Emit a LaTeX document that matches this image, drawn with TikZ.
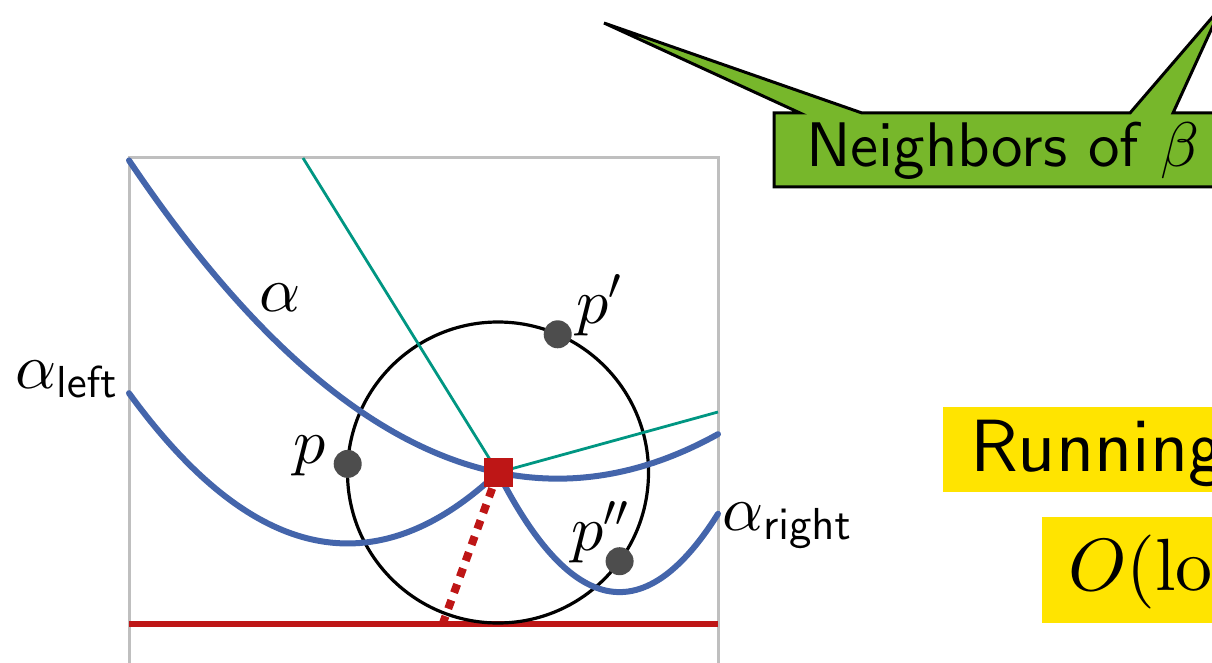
\documentclass[tikz,border=0pt]{standalone}
\DeclareFontShape{OT1}{cmss}{m}{n}{<->cmss10}{}
\DeclareFontShape{OML}{cmm}{m}{it}{<->cmmi10}{}
\DeclareFontShape{OT1}{cmr}{m}{n}{<->cmr10}{}
\DeclareFontShape{OMS}{cmsy}{m}{n}{<->cmsy10}{}
\DeclareFontShape{OMX}{cmex}{m}{n}{<->cmex10}{}
\newcommand{\cmsans}{\fontencoding{OT1}\fontfamily{cmss}\fontseries{m}\fontshape{n}}
\definecolor{blu}{RGB}{68,101,171}
\definecolor{teal2}{RGB}{0,150,130}
\definecolor{vred}{RGB}{190,22,22}
\definecolor{framegray}{RGB}{191,191,191}
\definecolor{dotgray}{RGB}{77,77,77}
\definecolor{callgreen}{RGB}{119,183,43}
\definecolor{hiyellow}{RGB}{255,228,0}
\begin{document}
\begin{tikzpicture}[x=1pt,y=-1pt,
  frame/.style={draw=framegray, line width=3pt},
  beach/.style={draw=blu, line width=6pt, line cap=round},
  bis/.style={draw=teal2, line width=2.8pt},
  sweep/.style={draw=vred, line width=6pt},
  drop/.style={draw=vred, line width=8pt, dash pattern=on 9pt off 8pt},
  circ/.style={draw=black, line width=3.2pt},
  site/.style={circle, fill=dotgray, minimum size=28pt, inner sep=0pt},
  vertex/.style={fill=vred, minimum size=29pt, inner sep=0pt},
  lbl/.style={inner sep=0pt, font=\fontsize{64}{77}\selectfont},
  call/.style={inner sep=0pt, font=\cmsans\fontsize{63}{76}\selectfont},
  big/.style={inner sep=0pt, font=\cmsans\fontsize{74}{88}\selectfont}]
\useasboundingbox (0,0) rectangle (1212,663);
\clip (0,0) rectangle (1212,663);
% frame
\draw[frame] (129,680) -- (129,158) -- (718,158) -- (718,680);
% sweep line
\coordinate (s1) at (129,624);
\coordinate (s2) at (718,624);
\draw[sweep] (s1) -- (s2);
% vertex position
\coordinate (vc) at (498,472.5);
% empty circle
\draw[circ] (vc) circle[radius=150.5pt];
% bisector rays
\coordinate (t1) at (303,158);
\coordinate (t2) at (718,412);
\draw[bis] (t1) -- (vc);
\draw[bis] (vc) -- (t2);
% beach line arcs (parabolas of p', p, p'' with directrix y=623)
\draw[beach] plot[domain=129:718, samples=90, smooth] (\x, {478.65 - ((\x-557.7)/24.03)^2});
\draw[beach] plot[domain=129:498, samples=70, smooth] (\x, {543.45 - ((\x-347.7)/17.84)^2});
\draw[beach] plot[domain=498:718, samples=60, smooth] (\x, {592.1 - ((\x-619.6)/11.12)^2});
% dashed drop
\coordinate (foot) at (443,623);
\draw[drop] (vc) -- (foot);
% vertex
\node[vertex] (v) at (vc) {};
% sites
\node[site] (p) at (347.7,463.9) {};
\node[site] (pp) at (557.7,334.3) {};
\node[site] (ppp) at (619.6,561.2) {};
% labels
\node[lbl, anchor=base west] (la) at (259,311) {$\alpha$};
\node[lbl, anchor=base west] (lp) at (293,463) {$p$};
\node[lbl, anchor=base west] (lpp) at (576,323) {$p'$};
\node[lbl, anchor=base west] (lppp) at (571,550) {$p''$};
\node[lbl, anchor=base west] (lal) at (15,388) {$\alpha_{\mathsf{left}}$};
\node[lbl, anchor=base west] (lar) at (722,530) {$\alpha_{\mathsf{right}}$};
% callout
\draw[fill=callgreen, draw=black, line width=3pt, line join=miter]
  (774,113) -- (800,113) -- (604,23) -- (862,113) -- (1130,113) -- (1222,6)
  -- (1173,113) -- (1260,113) -- (1260,187) -- (774,187) -- cycle;
\node[call, anchor=base west] (nb) at (806,167) {Neighbors of $\beta$};
% yellow boxes
\fill[hiyellow] (943,407) rectangle (1260,492);
\node[big, anchor=base west] (rt) at (970,471) {Running};
\fill[hiyellow] (1042,517) rectangle (1260,623);
\node[big, anchor=base west] (ol) at (1068,590) {$O(\mathrm{lo}$};
\end{tikzpicture}
\end{document}
